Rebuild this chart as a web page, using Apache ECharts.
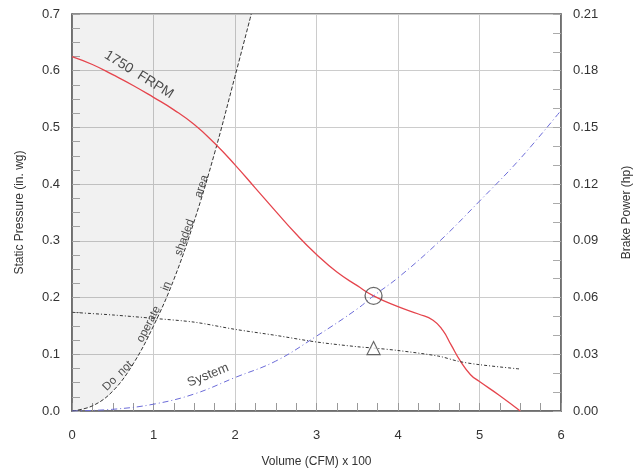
<!DOCTYPE html>
<html><head><meta charset="utf-8">
<script src="https://cdn.jsdelivr.net/npm/echarts@6/dist/echarts.min.js"></script>
<style>html,body{margin:0;padding:0;background:#fff}#c{width:641px;height:473px}</style>
</head><body><div id="c"></div>
<script>
// Volume (CFM x 100) ticks
const xTicks = [0, 1, 2, 3, 4, 5, 6];
// Fan curve 1750 FRPM: static pressure (in. wg)
const fanX = [0,0.25,0.5,0.75,1,1.25,1.5,1.75,2,2.25,2.5,2.75,3,3.25,3.5,3.7,4,4.25,4.43,4.55,4.65,4.77,4.89,5,5.25,5.5];
const fanP = [0.625,0.611,0.593,0.574,0.553,0.531,0.505,0.472,0.434,0.393,0.352,0.312,0.276,0.245,0.221,0.203,0.184,0.171,0.16,0.142,0.117,0.087,0.064,0.052,0.027,0];
// "Do not operate" boundary
const bndX = [0,0.25,0.5,0.75,1,1.25,1.5,1.75,2,2.2];
const bndP = [0,0.009,0.035,0.083,0.15,0.232,0.335,0.455,0.59,0.7];
// System curve
const sysX = [0,0.5,1,1.5,2,2.5,3,3.5,3.7,4,4.5,5,5.5,6];
const sysP = [0,0.003,0.012,0.03,0.059,0.088,0.132,0.18,0.203,0.235,0.298,0.37,0.445,0.53];
// Brake power (hp)
const bhpX = [0,0.5,1,1.5,2,2.5,3,3.5,3.7,4,4.5,4.75,5,5.5];
const bhpV = [0.0522,0.0508,0.049,0.047,0.0432,0.040,0.0365,0.034,0.0333,0.032,0.029,0.0262,0.0245,0.0222];
// Operating point
const opX = [3.7];
const opP = [0.203];
const opBhp = [0.0333];
// Annotations: text, x, y, rotation
const notes = [
  ['1750  FRPM', 0.82, 0.593, -32, 14],
  ['System', 1.67, 0.063, 22, 13],
  ['Do  not', 0.56, 0.062, 45, 11.5],
  ['operate', 0.94, 0.153, 63, 11.5],
  ['in', 1.16, 0.22, 68, 11.5],
  ['shaded', 1.38, 0.306, 70, 11.5],
  ['area', 1.59, 0.396, 72, 11.5]
];

const zip = (a, b) => a.map((v, i) => [v, b[i]]);
const font = 'Liberation Sans, Arial, sans-serif';
const axisCol = '#666';
const chart = echarts.init(document.getElementById('c'), null, {renderer: 'canvas'});
chart.setOption({
  animation: false,
  textStyle: {fontFamily: font},
  grid: {left: 72, right: 74, top: 14, bottom: 61, show: true, borderColor: axisCol, borderWidth: 1.5, backgroundColor: 'transparent'},
  xAxis: {
    type: 'value', min: 0, max: 6, interval: 1,
    name: 'Volume (CFM) x 100', nameLocation: 'middle', nameGap: 45,
    nameTextStyle: {fontSize: 12, color: '#333', fontFamily: font},
    axisLine: {show: true, lineStyle: {color: axisCol, width: 1.5}},
    axisTick: {show: true, inside: true, length: 8, lineStyle: {color: '#999'}},
    minorTick: {show: true, splitNumber: 4, length: 8, lineStyle: {color: '#999'}},
    axisLabel: {fontSize: 13, color: '#333', margin: 18, fontFamily: font,
      formatter: v => xTicks.includes(v) ? String(v) : ''},
    splitLine: {show: true, lineStyle: {color: '#ccc', width: 1}}
  },
  yAxis: [{
    type: 'value', min: 0, max: 0.7, interval: 0.1,
    name: 'Static Pressure (in. wg)', nameLocation: 'middle', nameGap: 46, nameRotate: 90,
    nameTextStyle: {fontSize: 12, color: '#333', fontFamily: font},
    axisLine: {show: true, lineStyle: {color: axisCol, width: 1.5}},
    axisTick: {show: true, inside: true, length: 8, lineStyle: {color: '#aaa'}},
    minorTick: {show: true, splitNumber: 4, length: 8, lineStyle: {color: '#aaa'}},
    axisLabel: {fontSize: 13, color: '#333', margin: 12, fontFamily: font, formatter: v => v.toFixed(1)},
    splitLine: {show: true, lineStyle: {color: '#ccc', width: 1}}
  }, {
    type: 'value', min: 0, max: 0.21, interval: 0.03, position: 'right',
    name: 'Brake Power (hp)', nameLocation: 'middle', nameGap: 60, nameRotate: 90,
    nameTextStyle: {fontSize: 12, color: '#333', fontFamily: font},
    axisLine: {show: true, lineStyle: {color: axisCol, width: 1.5}},
    axisTick: {show: true, inside: true, length: 8, lineStyle: {color: '#aaa'}},
    minorTick: {show: true, splitNumber: 3, length: 8, lineStyle: {color: '#aaa'}},
    axisLabel: {fontSize: 13, color: '#333', margin: 12, fontFamily: font, formatter: v => v.toFixed(2)},
    splitLine: {show: false}
  }],
  series: [
    {type: 'line', name: 'boundary', data: zip(bndX, bndP), smooth: 0.4, symbol: 'none',
      lineStyle: {color: '#333', width: 1, type: [4, 2]},
      areaStyle: {origin: 'end', color: 'rgba(0,0,0,0.08)'}, z: 2},
    {type: 'line', name: 'fan', data: zip(fanX, fanP), smooth: 0.5, symbol: 'none',
      lineStyle: {color: '#e5454d', width: 1.3}, z: 3},
    {type: 'line', name: 'system', data: zip(sysX, sysP), smooth: 0.4, symbol: 'none',
      lineStyle: {color: '#6b6bd8', width: 1, type: [6, 3, 1, 3]}, z: 3},
    {type: 'line', name: 'bhp', yAxisIndex: 1, data: zip(bhpX, bhpV), smooth: 0.3, symbol: 'none',
      lineStyle: {color: '#333', width: 1, type: [3, 2, 1, 2]}, z: 3},
    {type: 'scatter', data: zip(opX, opP), symbol: 'circle', symbolSize: 17,
      itemStyle: {color: 'transparent', borderColor: '#444', borderWidth: 1.3}, z: 4},
    {type: 'scatter', yAxisIndex: 1, data: zip(opX, opBhp), symbol: 'triangle', symbolSize: 13,
      itemStyle: {color: '#fff', borderColor: '#444', borderWidth: 1.2}, z: 4},
    {type: 'scatter', symbolSize: 0, silent: true, z: 5,
      data: notes.map(n => ({value: [n[1], n[2]],
        label: {show: true, position: 'inside', formatter: n[0], rotate: n[3], fontSize: n[4],
          color: '#222', fontFamily: font}}))}
  ]
});
</script></body></html>
